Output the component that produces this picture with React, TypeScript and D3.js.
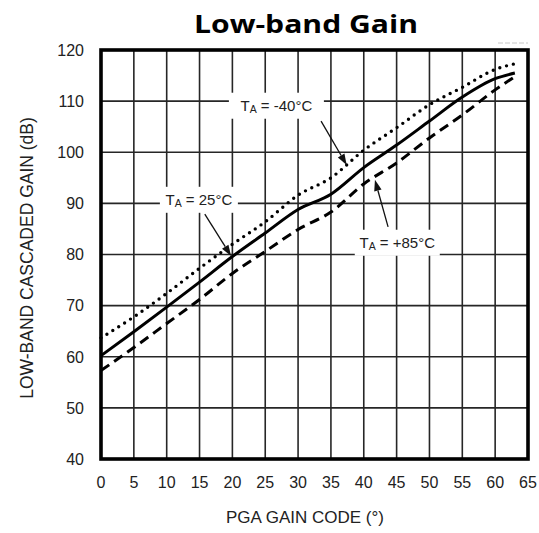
import React from "react";
import * as d3 from "d3";

const codes = [0, 5, 10, 15, 20, 25, 30, 35, 40, 45, 50, 55, 60, 63];
const gain25 = [60.2, 64.9, 69.7, 74.6, 79.6, 84.2, 88.8, 91.8, 97.0, 101.4, 106.1, 110.8, 114.4, 115.5];
const gainM40 = [63.7, 67.8, 72.4, 77.3, 82.0, 86.4, 91.6, 95.0, 100.4, 104.8, 109.3, 112.7, 116.2, 117.3];
const gain85 = [57.3, 61.8, 66.5, 71.2, 76.3, 80.6, 84.9, 88.3, 93.8, 97.9, 102.8, 107.3, 112.2, 114.8];

const xTicks = [0, 5, 10, 15, 20, 25, 30, 35, 40, 45, 50, 55, 60, 65];
const yTicks = [40, 50, 60, 70, 80, 90, 100, 110, 120];

const labelTemps = ["-40°C", "25°C", "+85°C"];
const labelCenters = [[26.7, 109.1], [14.9, 90.7], [45.1, 82.3]];
const arrowStarts = [[33.5, 106.1], [15.8, 87.9], [43.7, 85.4]];
const arrowTips = [[37.4, 97.5], [19.8, 79.7], [41.7, 94.6]];
const labelBoxW = [95, 78, 85];

const W = 539, H = 533;
const L = 101, R = 528, T = 50, B = 459;

export default function App() {
  const x = d3.scaleLinear().domain([0, 65]).range([L, R]);
  const y = d3.scaleLinear().domain([40, 120]).range([B, T]);
  const line = (vals: number[]) =>
    d3.line<number>().x((_, i) => x(codes[i])).y((v) => y(v)).curve(d3.curveMonotoneX)(vals) || "";

  const font = "'Liberation Sans', Arial, sans-serif";

  const arrows = arrowTips.map((tip, i) => {
    const s = arrowStarts[i];
    const x1 = x(s[0]), y1 = y(s[1]), x2 = x(tip[0]), y2 = y(tip[1]);
    const ang = Math.atan2(y2 - y1, x2 - x1);
    const len = 11, half = 3.8;
    const bx = x2 - len * Math.cos(ang), by = y2 - len * Math.sin(ang);
    const px = -Math.sin(ang) * half, py = Math.cos(ang) * half;
    return { x1, y1, bx, by, x2, y2, p: `M${x2},${y2}L${bx + px},${by + py}L${bx - px},${by - py}Z` };
  });

  return (
    <svg width={W} height={H} style={{ position: "absolute", left: 0, top: 0, background: "#fff" }}>
      <rect x={0} y={0} width={W} height={H} fill="#fff" />
      <text x={306} y={33} textAnchor="middle" fontFamily="'Open Sans', sans-serif" fontWeight={700}
        fontSize={25} textLength={224} lengthAdjust="spacingAndGlyphs" fill="#000">Low-band Gain</text>
      <line x1={498} x2={528} y1={43} y2={43} stroke="#c8c8c8" strokeWidth={1} strokeDasharray="5 2" />
      {/* grid */}
      {xTicks.slice(1, -1).map((t) => (
        <line key={"gx" + t} x1={x(t)} x2={x(t)} y1={T} y2={B} stroke="#262626" strokeWidth={1.6} />
      ))}
      {yTicks.slice(1, -1).map((t) => (
        <line key={"gy" + t} x1={L} x2={R} y1={y(t)} y2={y(t)} stroke="#262626" strokeWidth={1.6} />
      ))}
      {/* label backgrounds */}
      {labelCenters.map((c, i) => (
        <rect key={"lb" + i} x={x(c[0]) - labelBoxW[i] / 2} y={y(c[1]) - 13} width={labelBoxW[i]} height={26} fill="#fff" />
      ))}
      {/* curves */}
      <path d={line(gainM40)} fill="none" stroke="#000" strokeWidth={3.4} strokeDasharray="0 7" strokeLinecap="round" />
      <path d={line(gain25)} fill="none" stroke="#000" strokeWidth={3} />
      <path d={line(gain85)} fill="none" stroke="#000" strokeWidth={3} strokeDasharray="10 6" />
      {/* arrows */}
      {arrows.map((a, i) => (
        <g key={"ar" + i}>
          <line x1={a.x1} y1={a.y1} x2={a.bx} y2={a.by} stroke="#111" strokeWidth={1.3} />
          <path d={a.p} fill="#111" />
        </g>
      ))}
      {/* labels */}
      {labelCenters.map((c, i) => (
        <text key={"lt" + i} x={x(c[0])} y={y(c[1]) + 5.5} textAnchor="middle" fontFamily={font} fontSize={15} fill="#222">
          T<tspan fontSize={10.5} dy={2}>A</tspan><tspan dy={-2}>{" = " + labelTemps[i]}</tspan>
        </text>
      ))}
      {/* frame */}
      <rect x={L} y={T} width={R - L} height={B - T} fill="none" stroke="#000" strokeWidth={3.6} />
      {/* tick labels */}
      {yTicks.map((t) => (
        <text key={"yl" + t} x={84} y={y(t)} dy="0.36em" textAnchor="end" fontFamily={font} fontSize={16} fill="#222">{t}</text>
      ))}
      {xTicks.map((t) => (
        <text key={"xl" + t} x={x(t)} y={488} textAnchor="middle" fontFamily={font} fontSize={16} fill="#222">{t}</text>
      ))}
      <text x={305} y={523} textAnchor="middle" fontFamily={font} fontSize={17} fill="#222">PGA GAIN CODE (°)</text>
      <text transform="translate(33,258) rotate(-90)" textAnchor="middle" fontFamily={font} fontSize={17.5} fill="#222">
        LOW-BAND CASCADED GAIN (dB)
      </text>
    </svg>
  );
}
